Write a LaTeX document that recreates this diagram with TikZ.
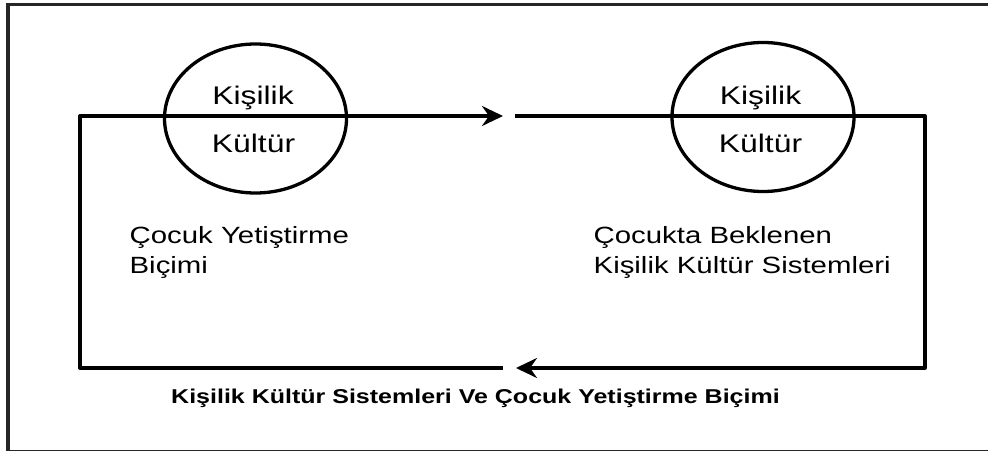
\documentclass[tikz,border=0pt]{standalone}
\usepackage{fontspec}
\setmainfont{Liberation Sans}[FakeStretch=1.25]
\usetikzlibrary{%
  arrows.meta,%
  shapes.geometric,% wg. ellipse
  positioning,%
  calc%
}

\begin{document}
\begin{tikzpicture}
[x=1pt, y=-1pt, draw=black, line width=3.3pt,
outerline/.style={line width=3.5pt, draw=black!85},
circ/.style={ellipse, draw, line width=3.3pt, inner sep=0pt, minimum width=182pt, minimum height=149pt},
circtext/.style={font=\fontsize{25.5}{30}\selectfont, anchor=base, inner sep=0pt},
captiontext/.style={font=\fontsize{23.5}{30}\selectfont, anchor=base west, align=left, inner sep=0pt},
boldtext/.style={font=\bfseries\fontsize{20}{24}\selectfont, anchor=base, inner sep=0pt},
loopline/.style={line width=3.3pt, line join=round},
arrowed/.style={-{Stealth[length=21pt, width=20pt, inset=7pt]}}
]

\useasboundingbox (0,0) rectangle (988,452);

\draw[outerline] (988,4.5) -- (8,4.5) -- (8,450.5);
\draw[outerline, line width=1.2pt] (8,450.5) -- (988,450.5);

\node[circ] (circle1) at (255.5,118.5) {};
\node[circ] (circle2) at (763,117) {};

\node[circtext] (kisilik1) at (253,104) {Kişilik};
\node[circtext] (kultur1) at (253.5,152) {Kültür};
\node[circtext] (kisilik2) at (760.5,104) {Kişilik};
\node[circtext] (kultur2) at (760.5,152) {Kültür};

\coordinate (tl) at (80,116);
\coordinate (toptip) at (503,116);
\coordinate (topgap) at (515,116);
\coordinate (tr) at (925,116);
\coordinate (br) at (925,368);
\coordinate (bottip) at (516,368);
\coordinate (botgap) at (503,368);
\coordinate (bl) at (80,368);

\draw[loopline, arrowed] (botgap) -- (bl) -- (tl) -- (toptip);
\draw[loopline, arrowed] (topgap) -- (tr) -- (br) -- (bottip);

\node[captiontext] (yetistirme) at (128,273) {Çocuk Yetiştirme\\Biçimi};
\node[captiontext] (beklenen) at (592,273) {Çocukta Beklenen\\Kişilik\ Kültür Sistemleri};
\node[boldtext] (sistemler) at (475.5,403) {Kişilik\ Kültür\ Sistemleri\ Ve Çocuk Yetiştirme\ Biçimi};
\end{tikzpicture}
\end{document}
